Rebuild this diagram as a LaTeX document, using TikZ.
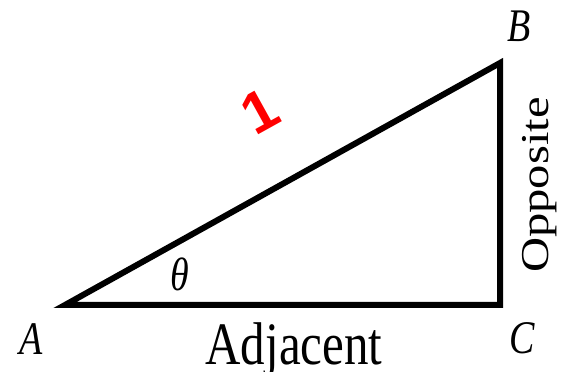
\documentclass[tikz,border=0pt]{standalone}
\usepackage{fontspec}
\setmainfont{Liberation Serif}
\newfontfamily\unitsans{Liberation Sans}
\usepackage{graphicx}
\usepackage{xcolor}
\usepackage{tikz}
\usetikzlibrary{positioning}
\definecolor{edge}{HTML}{000000}
\definecolor{unit}{HTML}{FF0000}
\newcommand{\tall}[1]{\scalebox{1}[1.23]{#1}}
\tikzset{
  leg/.style={draw=edge, line width=6pt, line join=miter},
  vtx/.style={font=\fontsize{38}{40}\selectfont\itshape, inner sep=0pt},
  sidelbl/.style={font=\fontsize{49}{52}\selectfont, inner sep=0pt},
  % hypotenuse length
  one/.style={font=\unitsans\bfseries\fontsize{58}{60}\selectfont,
              text=unit, inner sep=0pt, rotate=29},
}
\begin{document}
\begin{tikzpicture}[x=1pt,y=1pt]
  \useasboundingbox (0,0) rectangle (565,372);
  \coordinate (A) at (65,67);
  \coordinate (B) at (500,309);
  \coordinate (C) at (500,67);

  \draw[leg] (A) -- (B) -- (C) -- cycle;

  \node[vtx] (lblA) at (31,33)   {\tall{A}};
  \node[vtx] (lblB) at (519,346) {\tall{B}};
  \node[vtx] (lblC) at (522,34)  {\tall{C}};
  \node[vtx] (theta) at (180,98) {\tall{θ}};

  \node[sidelbl, anchor=base] (adj) at (294,7) {\tall{Adjacent}};
  \node[sidelbl, font=\fontsize{39.5}{42}\selectfont] (opp) at (539.5,187)
       {\tall{\rotatebox{90}{Opposite}}};

  \node[one] (hyp) at (260,261) {1};
\end{tikzpicture}
\end{document}
